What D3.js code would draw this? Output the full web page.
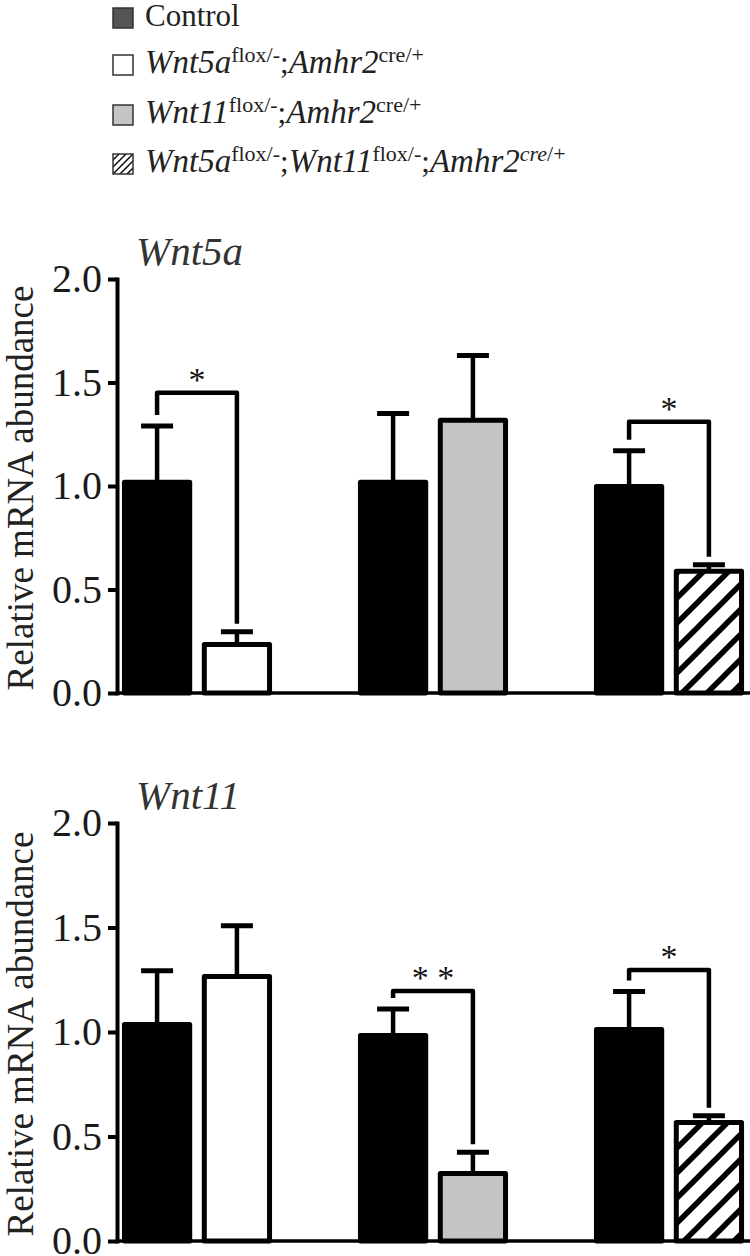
<!DOCTYPE html>
<html><head><meta charset="utf-8">
<script src="https://cdn.jsdelivr.net/npm/d3@7"></script>
<style>body{margin:0;background:#fff} svg{display:block}</style>
</head><body>
<svg id="chart" width="750" height="1256"></svg>
<script>
// ---------- data ----------
const groups = ["Wnt5a cKO", "Wnt11 cKO", "Double cKO"];
const conditions = ["control", "mutant"];
const yTicks = [0, 0.5, 1.0, 1.5, 2.0];

const wnt5aControl    = [1.03, 1.03, 1.01];
const wnt5aControlSem = [0.26, 0.32, 0.16];
const wnt5aMutant     = [0.246, 1.33, 0.60];
const wnt5aMutantSem  = [0.05, 0.30, 0.02];
const wnt5aSig        = ["*", "", "*"];
const wnt5aBracket    = [1.45, null, 1.31];

const wnt11Control    = [1.048, 0.995, 1.024];
const wnt11ControlSem = [0.245, 0.115, 0.17];
const wnt11Mutant     = [1.278, 0.335, 0.579];
const wnt11MutantSem  = [0.23, 0.09, 0.02];
const wnt11Sig        = ["", "**", "*"];
const wnt11Bracket    = [null, 1.196, 1.297];

const legendRows = [
  [["Control", "n"]],
  [["Wnt5a", "i"], ["flox/-", "sup"], [";", "n"], ["Amhr2", "i"], ["cre/+", "sup"]],
  [["Wnt11", "i"], ["flox/-", "sup"], [";", "n"], ["Amhr2", "i"], ["cre/+", "sup"]],
  [["Wnt5a", "i"], ["flox/-", "sup"], [";", "n"], ["Wnt11", "i"], ["flox/-", "sup"], [";", "n"], ["Amhr2", "i"], ["cre", "supi"], ["/+", "sup"]]
];
const legendFills = ["#555555", "#ffffff", "#c4c4c4", "url(#hatchSmall)"];
const mutantFills = ["#ffffff", "#c4c4c4", "url(#hatch)"];

// ---------- setup ----------
const svg = d3.select("#chart");
const FONT = "'Liberation Serif','Times New Roman',serif";

const defs = svg.append("defs");
const hp = defs.append("pattern").attr("id", "hatch").attr("patternUnits", "userSpaceOnUse")
  .attr("width", 25).attr("height", 25);
hp.append("rect").attr("width", 25).attr("height", 25).attr("fill", "#fff");
hp.append("path").attr("d", "M-6,6 L6,-6 M0,25 L25,0 M19,31 L31,19")
  .attr("stroke", "#000").attr("stroke-width", 5.5);
const hs = defs.append("pattern").attr("id", "hatchSmall").attr("patternUnits", "userSpaceOnUse")
  .attr("width", 7).attr("height", 7);
hs.append("rect").attr("width", 7).attr("height", 7).attr("fill", "#fff");
hs.append("path").attr("d", "M-2,2 L2,-2 M0,7 L7,0 M5,9 L9,5")
  .attr("stroke", "#000").attr("stroke-width", 1.4);

// ---------- legend ----------
const legend = svg.append("g");
const rowBaselines = [26, 73, 123, 172];
legendRows.forEach((row, i) => {
  const by = rowBaselines[i];
  legend.append("rect").attr("x", 113).attr("y", by - 18).attr("width", 20).attr("height", 20)
    .attr("fill", legendFills[i]).attr("stroke", "#333").attr("stroke-width", 1.5);
  const t = legend.append("text").attr("x", 145).attr("y", by)
    .attr("font-family", FONT).attr("font-size", 31).attr("fill", "#222");
  let raised = false;
  row.forEach(([txt, st]) => {
    const sup = st === "sup" || st === "supi";
    const ts = t.append("tspan").text(txt);
    if (sup && !raised) { ts.attr("dy", -11); raised = true; }
    else if (!sup && raised) { ts.attr("dy", 11); raised = false; }
    if (sup) ts.attr("font-size", 22);
    if (st === "i") ts.attr("font-size", 33);
    if (st === "i" || st === "supi") ts.attr("font-style", "italic");
  });
});

// ---------- panels ----------
const x = d3.scaleBand().domain(groups).range([79, 787]).paddingInner(0.364).paddingOuter(0.182);
const xs = d3.scaleBand().domain(conditions).range([0, x.bandwidth()]).paddingInner(0.12);

const panels = [
  { title: "Wnt5a", yr: [693, 279], ctrl: wnt5aControl, ctrlSem: wnt5aControlSem,
    mut: wnt5aMutant, mutSem: wnt5aMutantSem, sig: wnt5aSig, br: wnt5aBracket },
  { title: "Wnt11", yr: [1241, 823], ctrl: wnt11Control, ctrlSem: wnt11ControlSem,
    mut: wnt11Mutant, mutSem: wnt11MutantSem, sig: wnt11Sig, br: wnt11Bracket }
];

const AX = 117, SW = 5;
panels.forEach(p => {
  const y = d3.scaleLinear().domain([0, 2]).range(p.yr);
  const g = svg.append("g");

  // bars
  groups.forEach((grp, i) => {
    const vals = [p.ctrl[i], p.mut[i]];
    const sems = [p.ctrlSem[i], p.mutSem[i]];
    conditions.forEach((c, j) => {
      const x0 = x(grp) + xs(c);
      const cx = x0 + xs.bandwidth() / 2;
      // error bar
      g.append("line").attr("x1", cx).attr("x2", cx).attr("y1", y(vals[j]) + 2).attr("y2", y(vals[j] + sems[j]))
        .attr("stroke", "#000").attr("stroke-width", 4.5);
      g.append("line").attr("x1", cx - 16).attr("x2", cx + 16)
        .attr("y1", y(vals[j] + sems[j])).attr("y2", y(vals[j] + sems[j]))
        .attr("stroke", "#000").attr("stroke-width", 5);
      g.append("rect").attr("x", x0 + SW / 2).attr("width", xs.bandwidth() - SW)
        .attr("y", y(vals[j]) + SW / 2).attr("height", y(0) - y(vals[j]) - SW / 2)
        .attr("fill", j === 0 ? "#000" : mutantFills[i])
        .attr("stroke", "#000").attr("stroke-width", SW).attr("stroke-linejoin", "round");
    });
    // significance bracket
    if (p.sig[i]) {
      const lx = x(grp) + xs("control") + xs.bandwidth() / 2;
      const rx = x(grp) + xs("mutant") + xs.bandwidth() / 2;
      const yb = y(p.br[i]);
      const lb = y(p.ctrl[i] + p.ctrlSem[i]) - 11;
      const rb = y(p.mut[i] + p.mutSem[i]) - 8;
      g.append("path").attr("d", `M${lx},${lb}V${yb}H${rx}V${rb}`)
        .attr("fill", "none").attr("stroke", "#000").attr("stroke-width", 4.5)
        .attr("stroke-linejoin", "round");
      g.append("text").attr("x", (lx + rx) / 2).attr("y", yb - 2)
        .attr("text-anchor", "middle").attr("font-family", FONT).attr("font-size", 34)
        .attr("fill", "#111").text(p.sig[i].split("").join(" "));
    }
  });

  // x axis line
  g.append("line").attr("x1", AX).attr("x2", 750).attr("y1", y(0)).attr("y2", y(0))
    .attr("stroke", "#000").attr("stroke-width", 3.5);

  // y axis
  const ya = g.append("g").attr("transform", `translate(${AX},0)`)
    .call(d3.axisLeft(y).tickValues(yTicks).tickFormat(d3.format(".1f")).tickSize(9).tickSizeOuter(0).tickPadding(6));
  ya.select(".domain").attr("stroke", "#000").attr("stroke-width", 4).attr("stroke-linecap", "square");
  ya.selectAll(".tick line").attr("stroke", "#000").attr("stroke-width", 4);
  ya.selectAll(".tick text").attr("font-family", FONT).attr("font-size", 40).attr("fill", "#1a1a1a");

  // title
  g.append("text").attr("x", 136).attr("y", p.yr[1] - 14).attr("font-family", FONT)
    .attr("font-style", "italic").attr("font-size", 41).attr("fill", "#333").text(p.title);

  // y label
  const mid = (p.yr[0] + p.yr[1]) / 2 + 2;
  g.append("text").attr("transform", `translate(33,${mid}) rotate(-90)`)
    .attr("text-anchor", "middle").attr("font-family", FONT).attr("font-size", 37)
    .attr("fill", "#222").text("Relative mRNA abundance");
});
</script>
</body></html>
